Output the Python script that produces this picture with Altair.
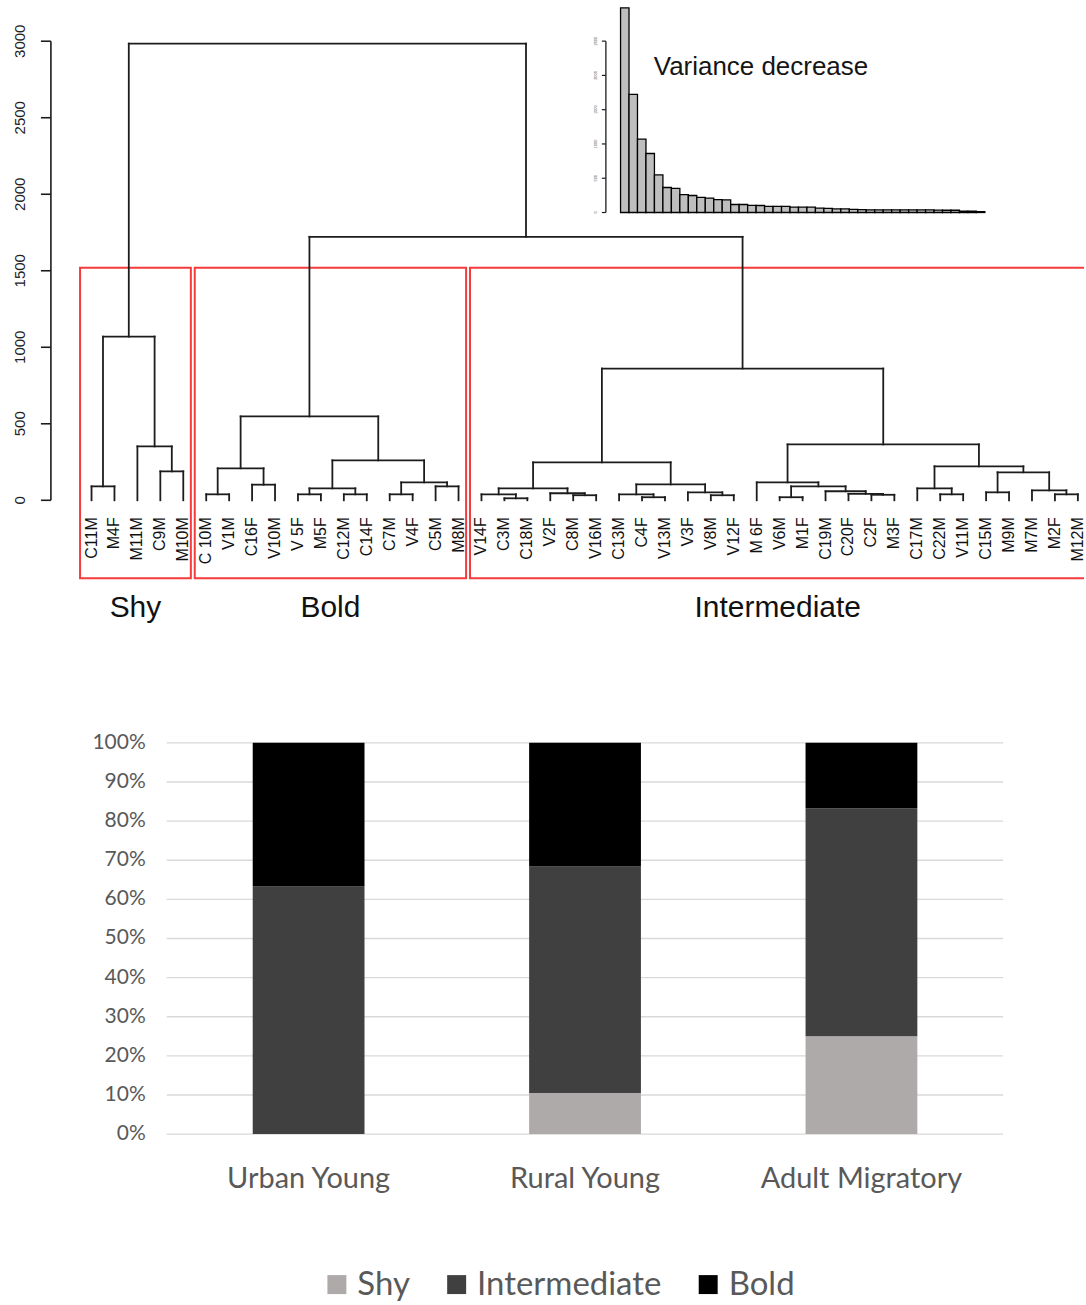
import altair as alt
import pandas as pd

# ---------------------------------------------------------------------------
# Hierarchical clustering of individuals: every internal node is
# [left, right, merge height]; leaves are the individual codes.
# ---------------------------------------------------------------------------
SHY_TREE = [["C11M", "M4F", 91], ["M11M", ["C9M", "M10M", 189], 352], 1070]
BOLD_TREE = [
    [["C 10M", "V1M", 39], ["C16F", "V10M", 102], 209],
    [[["V 5F", "M5F", 39], ["C12M", "C14F", 39], 78],
     [["C7M", "V4F", 39], ["C5M", "M8M", 91], 117], 261],
    548,
]
INTER_TREE = [
    [[["V14F", ["C3M", "C18M", 13], 39], ["V2F", ["C8M", "V16M", 33], 46], 78],
     [["C13M", ["C4F", "V13M", 20], 39], ["V3F", ["V8M", "V12F", 33], 52], 104],
     248],
    [["M 6F", [["V6M", "M1F", 20], ["C19M", ["C20F", ["C2F", "M3F", 36], 42], 59], 91], 117],
     [["C17M", ["C22M", "V11M", 39], 78],
      [["C15M", "M9M", 52], ["M7M", ["M2F", "M12M", 39], 65], 183], 222],
     365],
    861,
]
BOLD_INTER_HEIGHT = 1722
ROOT_HEIGHT = 2985
CUT_HEIGHT = 1520

CLUSTER_NAMES = ["Shy", "Bold", "Intermediate"]
CLUSTER_TREES = [SHY_TREE, BOLD_TREE, INTER_TREE]

HEIGHT_TICKS = [0, 500, 1000, 1500, 2000, 2500, 3000]
INSET_TICKS = [0, 500, 1000, 1500, 2000, 2500]

# ---------------------------------------------------------------------------
# Share of behavioural types per group (%)
# ---------------------------------------------------------------------------
GROUPS = ["Urban Young", "Rural Young", "Adult Migratory"]
TYPES = ["Shy", "Intermediate", "Bold"]
TYPE_COLORS = ["#aeaaaa", "#404040", "#000000"]
SHY_PCT = [0.0, 10.5, 25.0]
INTER_PCT = [63.3, 57.9, 58.3]
BOLD_PCT = [36.7, 31.6, 16.7]
PCT_TICKS = [0, 10, 20, 30, 40, 50, 60, 70, 80, 90, 100]

# ---------------------------------------------------------------------------
# Dendrogram layout (leaf order, node positions, segments)
# ---------------------------------------------------------------------------
full_tree = [SHY_TREE, [BOLD_TREE, INTER_TREE, BOLD_INTER_HEIGHT], ROOT_HEIGHT]

leaf_rows, seg_rows, merge_heights = [], [], []


def place(node):
    if isinstance(node, str):
        pos = len(leaf_rows)
        leaf_rows.append({"label": node, "pos": pos})
        return pos, 0.0
    left, right, h = node
    xl, hl = place(left)
    xr, hr = place(right)
    seg_rows.append({"x1": xl, "x2": xl, "y1": hl, "y2": h})
    seg_rows.append({"x1": xr, "x2": xr, "y1": hr, "y2": h})
    seg_rows.append({"x1": xl, "x2": xr, "y1": h, "y2": h})
    merge_heights.append(h)
    return (xl + xr) / 2, h


def leaves(node):
    if isinstance(node, str):
        return [node]
    return leaves(node[0]) + leaves(node[1])


place(full_tree)
leaf_df = pd.DataFrame(leaf_rows)
seg_df = pd.DataFrame(seg_rows)
pos_of = {r["label"]: r["pos"] for r in leaf_rows}

BOX_PAD_LEFT, BOX_PAD_RIGHT = 0.5, 0.33
box_rows = []
for name, sub in zip(CLUSTER_NAMES, CLUSTER_TREES):
    lv = leaves(sub)
    left = pos_of[lv[0]] - BOX_PAD_LEFT
    right = pos_of[lv[-1]] + BOX_PAD_RIGHT
    box_rows.append({"cluster": name, "left": left, "right": right,
                     "mid": (left + right) / 2, "top": CUT_HEIGHT})
box_df = pd.DataFrame(box_rows)

inset_vals = sorted(merge_heights, reverse=True)
inset_df = pd.DataFrame({"k": list(range(len(inset_vals))),
                         "k1": [k + 1 for k in range(len(inset_vals))],
                         "v": inset_vals})

tick_df = pd.DataFrame({"h": HEIGHT_TICKS, "lab": [str(t) for t in HEIGHT_TICKS]})
axis_span = pd.DataFrame({"lo": [min(HEIGHT_TICKS)], "hi": [max(HEIGHT_TICKS)]})
itick_df = pd.DataFrame({"h": INSET_TICKS, "lab": [str(t) for t in INSET_TICKS]})
iaxis_span = pd.DataFrame({"lo": [min(INSET_TICKS)], "hi": [max(INSET_TICKS)]})

# ---------------------------------------------------------------------------
# Scales of the upper panel
# ---------------------------------------------------------------------------
W, H_TOP, H_BOT = 1086, 640, 665
X_DEN = alt.Scale(domain=[-3.990, 43.268], nice=False, zero=False)
Y_DEN = alt.Scale(domain=[-913.2, 3261.6], nice=False, zero=False)
X_INS = alt.Scale(domain=[-73.24, 54.70], nice=False, zero=False)
Y_INS = alt.Scale(domain=[-6236.0, 3082.4], nice=False, zero=False)

INK = "#1c1c1c"
ARIAL = "Liberation Sans"

branches = alt.Chart(seg_df).mark_rule(color=INK, strokeWidth=1.8, strokeCap="square").encode(
    x=alt.X("x1:Q", scale=X_DEN, axis=None), x2="x2:Q",
    y=alt.Y("y1:Q", scale=Y_DEN, axis=None), y2="y2:Q")

leaf_labels = alt.Chart(leaf_df).mark_text(
    angle=270, align="right", baseline="middle", font=ARIAL, fontSize=16, color="#111111"
).encode(x=alt.X("pos:Q", scale=X_DEN, axis=None), y=alt.value(517), text="label:N")

boxes = alt.Chart(box_df).mark_rect(
    fillOpacity=0, stroke="#f53b3b", strokeWidth=2, clip=True
).encode(x=alt.X("left:Q", scale=X_DEN, axis=None), x2="right:Q",
         y=alt.Y("top:Q", scale=Y_DEN, axis=None), y2=alt.value(578))

cluster_labels = alt.Chart(box_df).mark_text(
    font=ARIAL, fontSize=30, color="#111111", baseline="middle"
).encode(x=alt.X("mid:Q", scale=X_DEN, axis=None), y=alt.value(608), text="cluster:N")

axis_line = alt.Chart(axis_span).mark_rule(color=INK, strokeWidth=1.6).encode(
    x=alt.value(51), y=alt.Y("lo:Q", scale=Y_DEN, axis=None), y2="hi:Q")
axis_ticks = alt.Chart(tick_df).mark_rule(color=INK, strokeWidth=1.6).encode(
    x=alt.value(41), x2=alt.value(51), y=alt.Y("h:Q", scale=Y_DEN, axis=None))
axis_labels = alt.Chart(tick_df).mark_text(
    angle=270, align="center", baseline="middle", font=ARIAL, fontSize=15, color="#222222"
).encode(x=alt.value(20), y=alt.Y("h:Q", scale=Y_DEN, axis=None), text="lab:N")

inset_bars = alt.Chart(inset_df).mark_rect(fill="#bebebe", stroke="#000000", strokeWidth=1.3).encode(
    x=alt.X("k:Q", scale=X_INS, axis=None), x2="k1:Q",
    y=alt.Y("v:Q", scale=Y_INS, axis=None), y2=alt.datum(0))
inset_line = alt.Chart(iaxis_span).mark_rule(color=INK, strokeWidth=1.3).encode(
    x=alt.value(607), y=alt.Y("lo:Q", scale=Y_INS, axis=None), y2="hi:Q")
inset_ticks = alt.Chart(itick_df).mark_rule(color=INK, strokeWidth=1.2).encode(
    x=alt.value(603), x2=alt.value(607), y=alt.Y("h:Q", scale=Y_INS, axis=None))
inset_labels = alt.Chart(itick_df).mark_text(
    angle=270, align="center", baseline="middle", font=ARIAL, fontSize=4, color="#555555"
).encode(x=alt.value(597), y=alt.Y("h:Q", scale=Y_INS, axis=None), text="lab:N")
inset_title = alt.Chart(pd.DataFrame({"t": ["Variance decrease"]})).mark_text(
    align="left", baseline="middle", font=ARIAL, fontSize=26, color="#151515"
).encode(x=alt.value(655), y=alt.value(66), text="t:N")

top = alt.layer(
    boxes, branches, leaf_labels, cluster_labels, axis_line, axis_ticks, axis_labels,
    inset_bars, inset_line, inset_ticks, inset_labels, inset_title,
).resolve_scale(x="independent", y="independent").properties(width=W, height=H_TOP)

# ---------------------------------------------------------------------------
# Lower panel: stacked percentages per group
# ---------------------------------------------------------------------------
bar_rows = []
for gi, g in enumerate(GROUPS):
    for ti, (t, vals) in enumerate(zip(TYPES, [SHY_PCT, INTER_PCT, BOLD_PCT])):
        bar_rows.append({"group": g, "gi": gi, "type": t, "order": ti, "pct": vals[gi]})
bar_df = pd.DataFrame(bar_rows)
group_df = pd.DataFrame({"group": GROUPS, "gi": list(range(len(GROUPS)))})
pct_df = pd.DataFrame({"p": PCT_TICKS, "lab": [f"{p}%" for p in PCT_TICKS]})

X_BAR = alt.Scale(domain=[-1.0984, 2.7871], nice=False, zero=False)
Y_BAR = alt.Scale(domain=[-43.37, 126.28], nice=False, zero=False)
GREY_TXT = "#595959"

grid = alt.Chart(pct_df).mark_rule(color="#d9d9d9", strokeWidth=1.4).encode(
    x=alt.value(167), x2=alt.value(1005), y=alt.Y("p:Q", scale=Y_BAR, axis=None))
pct_labels = alt.Chart(pct_df).mark_text(
    align="right", baseline="middle", font="Lato", fontSize=21, color=GREY_TXT
).encode(x=alt.value(146), y=alt.Y("p:Q", scale=Y_BAR, axis=None), text="lab:N")

bars = alt.Chart(bar_df).mark_bar(size=112).encode(
    x=alt.X("gi:Q", scale=X_BAR, axis=None),
    y=alt.Y("pct:Q", scale=Y_BAR, axis=None, stack="zero"),
    color=alt.Color("type:N", scale=alt.Scale(domain=TYPES, range=TYPE_COLORS),
                    legend=alt.Legend(
                        title=None, orient="none", legendX=321, legendY=H_TOP + 629,
                        direction="horizontal", symbolType="square", symbolSize=361,
                        symbolStrokeWidth=0, labelFont="Lato", labelFontSize=33,
                        labelColor=GREY_TXT, labelOffset=4, labelLimit=0,
                        columnPadding=30, padding=0)),
    order=alt.Order("order:Q"),
)
group_labels = alt.Chart(group_df).mark_text(
    baseline="middle", font="Lato", fontSize=29, color=GREY_TXT
).encode(x=alt.X("gi:Q", scale=X_BAR, axis=None), y=alt.value(540), text="group:N")

bottom = alt.layer(grid, pct_labels, bars, group_labels).properties(width=W, height=H_BOT)

chart = alt.vconcat(top, bottom, spacing=0).properties(padding=0).configure_view(strokeWidth=0)

chart.save("out.html", embed_options={"renderer": "svg", "actions": False})
